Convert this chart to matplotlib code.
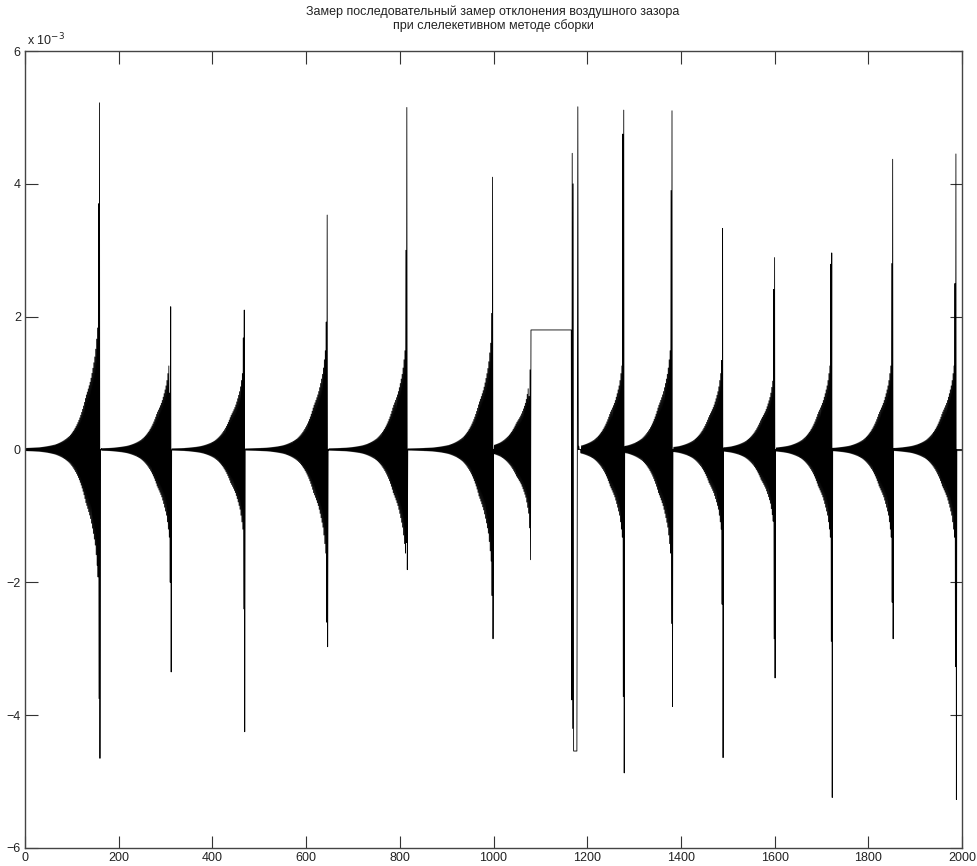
import numpy as np
import matplotlib
matplotlib.use("Agg")
import matplotlib.pyplot as plt

plt.rcParams['font.family'] = ['Liberation Sans Narrow', 'Liberation Sans', 'DejaVu Sans']

title = "Замер последовательный замер отклонения воздушного зазора\nпри слелекетивном методе сборки"

# bursts, amplitudes in units of 1e-3
burst_start = [0, 163, 313, 470, 648, 818, 1001, 1187, 1281, 1384, 1492, 1603, 1724, 1855]
burst_end = [160, 312, 469, 646, 816, 999, 1079, 1279, 1382, 1490, 1601, 1723, 1853, 1988]
pos_peak = [5.22, 2.15, 2.10, 3.53, 5.15, 4.10, 1.20, 5.11, 5.10, 3.33, 2.89, 2.96, 4.37, 4.45]
neg_peak = [-4.65, -3.35, -4.25, -2.97, -1.81, -2.85, -1.66, -4.87, -3.87, -4.64, -3.44, -5.24, -2.85, -5.27]
pos_near = [3.70, 0.85, 1.68, 1.92, 3.00, 2.05, 0.80, 4.75, 3.90, 1.34, 2.41, 2.79, 2.80, 2.50]
neg_near = [-3.75, -2.00, -2.40, -2.60, -1.40, -2.20, -1.18, -3.72, -2.62, -2.33, -2.85, -2.89, -2.30, -3.27]
mid_amp = [0.80, 0.55, 0.50, 0.65, 0.65, 0.70, 0.40, 0.55, 0.65, 0.50, 0.45, 0.55, 0.55, 0.55]

# envelope of a burst vs. distance from its end, as a fraction of mid_amp
env_dist = [4, 10, 20, 30, 45, 65, 95, 130, 200]
env_frac = [2.4, 1.8, 1.3, 1.0, 0.55, 0.25, 0.09, 0.035, 0.012]

# plateau between bursts 7 and 8 and the jump after it
plateau_x = [1080, 1166]
plateau_y = [1.80, 1.80]
jump_x = [1167, 1168, 1169, 1170, 1171, 1178, 1180, 1182]
jump_y = [-3.77, 4.46, -4.20, 4.00, -4.54, -4.54, 5.16, 0.05]

n = 2000
sig = np.zeros(n + 1)
for s, e, pp, npk, pn, nn, m in zip(burst_start, burst_end, pos_peak, neg_peak,
                                    pos_near, neg_near, mid_amp):
    for i in range(s, e + 1):
        d = e - i
        if d == 0:
            sig[i] = npk
        elif d == 1:
            sig[i] = pp
        elif d == 2:
            sig[i] = nn
        elif d == 3:
            sig[i] = pn
        else:
            a = m * np.exp(np.interp(d, env_dist, np.log(env_frac)))
            sig[i] = a if d % 2 == 1 else -a
sig[plateau_x[0]:plateau_x[1] + 1] = plateau_y[0]
for xi, yi in zip(jump_x, jump_y):
    sig[xi] = yi
sig[1172:1178] = jump_y[4]

x = np.arange(n + 1)

fig = plt.figure(figsize=(9.77, 8.66), dpi=100)
ax = fig.add_axes([25 / 977, 18 / 866, 937 / 977, 797 / 866])
ax.plot(x, sig, color='black', lw=0.6)
ax.set_xlim(0, 2000)
ax.set_ylim(-6, 6)
ax.set_xticks(range(0, 2001, 200))
ax.set_yticks(range(-6, 7, 2))
ax.tick_params(direction='in', length=9, top=True, right=True, labelsize=9,
               color='#333333', labelcolor='#222222', pad=3)
for sp in ax.spines.values():
    sp.set_color('#444444')
    sp.set_linewidth(1.0)
ax.text(0.002, 1.004, r'x 10$^{-3}$', transform=ax.transAxes, fontsize=9,
        ha='left', va='bottom', color='#222222')
fig.text(493 / 977, 1 - 6 / 866, title, ha='center', va='top', fontsize=9,
         color='#222222', linespacing=1.1)

fig.savefig('out.png', dpi=100)
